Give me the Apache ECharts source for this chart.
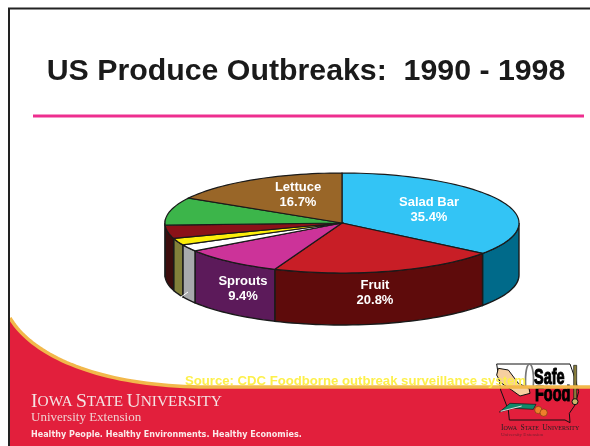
<!DOCTYPE html>
<html>
<head>
<meta charset="utf-8">
<style>
  html, body { margin: 0; padding: 0; background: #fff; }
  #chart { width: 590px; height: 446px; }
</style>
<script src="https://cdn.jsdelivr.net/npm/echarts@6/dist/echarts.min.js"></script>
</head>
<body>
<div id="chart"></div>
<script>
// clockwise from 12 o'clock; the small unnamed slices are estimated, the rest are printed on the chart
const sliceNames = ['Salad Bar', 'Fruit', 'Sprouts', '', '', '', '', 'Lettuce'];
const sliceValues = [35.4, 20.8, 9.4, 2.2, 2.2, 4.3, 9.0, 16.7];
const topColors = ['#33c4f5', '#c81e26', '#cc3399', '#ffffff', '#fcee0a', '#8b1218', '#3cb54a', '#996628'];
const sideColors = ['#006a8a', '#5e0b0b', '#5c1a5a', '#a8aaac', '#82803a', '#3c0d0d', '#3c0d0d', '#5e3f18'];
const labelSpots = [[429, 210], [375, 293], [243, 289], null, null, null, null, [298, 195]];

const titleText = 'US Produce Outbreaks:  1990 - 1998';
const sourceText = 'Source: CDC Foodborne outbreak surveillance system';

// tilted pie geometry
const cx = 342, cy = 223, rx = 177, ry = 50, depth = 52;
const edgeColor = '#1a1a1a';

let total = sliceValues.reduce((a, b) => a + b, 0);
let sliceAngles = [];
let run = 0;
sliceValues.forEach(v => {
  sliceAngles.push([run / total * 360, (run + v) / total * 360]);
  run += v;
});

function rimPoint(deg, drop) {
  let r = deg * Math.PI / 180;
  return [cx + rx * Math.sin(r), cy - ry * Math.cos(r) + drop];
}
function arc(from, to, drop) {
  let pts = [];
  let n = Math.max(2, Math.ceil(Math.abs(to - from) / 2));
  for (let i = 0; i <= n; i++) {
    pts.push(rimPoint(from + (to - from) * i / n, drop));
  }
  return pts;
}

function renderSide(params, api) {
  let a = sliceAngles[params.dataIndex];
  let from = Math.max(a[0], 90), to = Math.min(a[1], 270);
  if (to <= from) return { type: 'group', children: [] };
  let pts = arc(from, to, 0).concat(arc(to, from, depth));
  return {
    type: 'polygon',
    shape: { points: pts },
    style: { fill: sideColors[params.dataIndex], stroke: edgeColor, lineWidth: 1.4 }
  };
}

function renderTop(params, api) {
  let i = params.dataIndex;
  let a = sliceAngles[i];
  let pts = [[cx, cy]].concat(arc(a[0], a[1], 0));
  return {
    type: 'polygon',
    shape: { points: pts },
    style: { fill: topColors[i], stroke: edgeColor, lineWidth: 1.2 }
  };
}

function renderLabel(params, api) {
  let i = params.dataIndex;
  if (!labelSpots[i]) return { type: 'group', children: [] };
  return {
    type: 'text',
    x: labelSpots[i][0],
    y: labelSpots[i][1],
    style: {
      text: sliceNames[i] + '\n' + api.value(0).toFixed(1) + '%',
      fill: '#fff',
      font: 'bold 13px "Liberation Sans", Arial, sans-serif',
      lineHeight: 15.5,
      align: 'center',
      verticalAlign: 'middle'
    }
  };
}

// footer curve, sampled because the graphic component has no path type
function swoosh() {
  let p0 = [10, 318], p1 = [30, 352], p2 = [90, 385], p3 = [200, 387];
  let pts = [];
  for (let i = 0; i <= 40; i++) {
    let t = i / 40, u = 1 - t;
    pts.push([
      u * u * u * p0[0] + 3 * u * u * t * p1[0] + 3 * u * t * t * p2[0] + t * t * t * p3[0],
      u * u * u * p0[1] + 3 * u * u * t * p1[1] + 3 * u * t * t * p2[1] + t * t * t * p3[1]
    ]);
  }
  pts.push([590, 387]);
  return pts;
}

const serifFont = '"Liberation Serif", serif';
const decoration = [
  { type: 'polygon', z: 0, shape: { points: swoosh().concat([[590, 446], [10, 446]]) }, style: { fill: '#e21f3c' } },
  { type: 'polyline', z: 1, shape: { points: swoosh() }, style: { fill: null, stroke: '#f2b84b', lineWidth: 3.5 } },
  // frame and rule
  { type: 'polyline', z: 2, shape: { points: [[9, 446], [9, 8.5], [590, 8.5]] },
    style: { fill: null, stroke: '#222', lineWidth: 2 } },
  { type: 'rect', z: 2, shape: { x: 33, y: 114.5, width: 551, height: 3 }, style: { fill: '#ee2e8f' } },
  // little white tick on the olive wall
  { type: 'line', z: 6, shape: { x1: 181, y1: 297, x2: 188, y2: 292 }, style: { stroke: '#fff', lineWidth: 1 } },
  { type: 'text', z: 7, x: 185, y: 375, style: { text: sourceText, fill: '#fdf04a',
      font: 'bold 13.15px "Liberation Sans", Arial, sans-serif' } },
  // university block
  { type: 'text', z: 7, x: 31, y: 392, style: {
      text: '{b|I}{s|OWA} {b|S}{s|TATE} {b|U}{s|NIVERSITY}', fill: '#f4e4e4',
      rich: {
        b: { font: '19.6px ' + serifFont, fill: '#f4e4e4' },
        s: { font: '15.4px ' + serifFont, fill: '#f4e4e4' }
      } } },
  { type: 'text', z: 7, x: 31, y: 411, style: { text: 'University Extension', fill: '#f0d0d0',
      font: '13px ' + serifFont } },
  { type: 'text', z: 7, x: 31, y: 431, style: { text: 'Healthy People. Healthy Environments. Healthy Economies.',
      fill: '#fbe9e9', font: 'bold 8.05px "DejaVu Sans", sans-serif' } },
  // Safe Food logo, drawn at 3x and scaled down
  { type: 'group', x: 480, y: 350, scaleX: 1 / 3, scaleY: 1 / 3, z: 8, children: [
    { type: 'polyline', shape: { points: [[50, 42], [270, 42], [285, 85], [296, 125], [285, 165], [268, 190], [270, 218], [255, 210], [88, 210], [85, 180], [62, 120], [50, 42]] },
      style: { fill: null, stroke: '#111', lineWidth: 3 } },
    { type: 'polygon', shape: { points: [[55, 55], [50, 75], [62, 98], [95, 120], [120, 138], [150, 130], [147, 115], [115, 100], [85, 60]] },
      style: { fill: '#f6cfa0', stroke: '#111', lineWidth: 3 } },
    { type: 'bezierCurve', shape: { x1: 137, y1: 110, cpx1: 132, cpy1: 20, cpx2: 165, cpy2: 20, x2: 160, y2: 108 },
      style: { fill: null, stroke: '#777', lineWidth: 5 } },
    { type: 'rect', shape: { x: 281, y: 46, width: 9, height: 105 }, style: { fill: '#8a7f3c', stroke: '#111', lineWidth: 2 } },
    { type: 'circle', shape: { cx: 285, cy: 155, r: 9 }, style: { fill: '#c9b76a', stroke: '#111', lineWidth: 3 } },
    { type: 'polygon', shape: { points: [[58, 186], [90, 160], [168, 163], [160, 178], [100, 175]] },
      style: { fill: '#0f8a6a', stroke: '#111', lineWidth: 2 } },
    { type: 'line', shape: { x1: 62, y1: 184, x2: 125, y2: 168 }, style: { stroke: '#ddd', lineWidth: 3 } },
    { type: 'circle', shape: { cx: 175, cy: 180, r: 11 }, style: { fill: '#ee7f2a', stroke: '#7a3a10', lineWidth: 2 } },
    { type: 'circle', shape: { cx: 191, cy: 188, r: 11 }, style: { fill: '#ee7f2a', stroke: '#7a3a10', lineWidth: 2 } },
    { type: 'text', x: 162, y: 52, scaleX: 0.68, style: { text: 'Safe', fill: '#000', stroke: '#000', lineWidth: 3,
        font: 'bold 64px "Liberation Sans", Arial, sans-serif' } },
    { type: 'text', x: 165, y: 102, scaleX: 0.68, style: { text: 'Food', fill: '#000', stroke: '#000', lineWidth: 3,
        font: 'bold 64px "Liberation Sans", Arial, sans-serif' } }
  ] },
  { type: 'text', z: 8, x: 501, y: 422, style: { text: '{b|I}{s|OWA} {b|S}{s|TATE} {b|U}{s|NIVERSITY}', fill: '#222',
      rich: {
        b: { font: '7.5px ' + serifFont, fill: '#222' },
        s: { font: '6px ' + serifFont, fill: '#222' }
      } } },
  { type: 'text', z: 8, x: 501, y: 432, style: { text: 'University Extension', fill: '#7a2030',
      font: '5px ' + serifFont } }
];

let myChart = echarts.init(document.getElementById('chart'));
let pieData = sliceValues.map((v, i) => ({ name: sliceNames[i], value: v }));

myChart.setOption({
  animation: false,
  backgroundColor: '#fff',
  title: {
    text: titleText,
    left: 301,
    top: 52,
    textAlign: 'center',
    textStyle: {
      color: '#1a1a1a',
      fontFamily: '"Liberation Sans", Arial, sans-serif',
      fontWeight: 'bold',
      fontSize: 30.3
    }
  },
  graphic: decoration,
  series: [
    { type: 'custom', coordinateSystem: 'none', z: 3, silent: true, renderItem: renderSide, data: pieData },
    { type: 'custom', coordinateSystem: 'none', z: 4, silent: true, renderItem: renderTop, data: pieData },
    { type: 'custom', coordinateSystem: 'none', z: 5, silent: true, renderItem: renderLabel, data: pieData }
  ]
});
</script>
</body>
</html>
